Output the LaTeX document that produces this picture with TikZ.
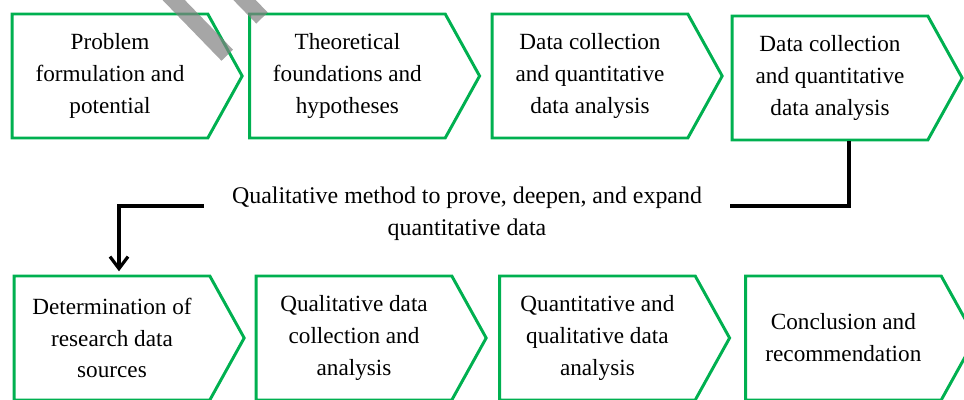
\documentclass[tikz,border=0pt]{standalone}
\usepackage{fontspec}
\setmainfont{Liberation Serif}
\usepackage{color}
\usetikzlibrary{shapes.symbols, arrows.meta}
\definecolor{stagegreen}{RGB}{0,176,80}

\begin{document}
\begin{tikzpicture}[
    stage/.style={signal, signal to=east, signal pointer angle=122, draw=stagegreen, line width=2.1pt,
        minimum width=5.75cm, minimum height=3.1cm, inner sep=0pt, align=center,
        font=\fontsize{16.5}{22.7}\selectfont},
    link/.style={line width=2.3pt, line join=miter}]
    \useasboundingbox (0,0) rectangle (24.1,10);
    % top row
    \node[stage] (t1) at (2.75, 8.1) {Problem\\formulation and\\potential};
    \node[stage] (t2) at (8.685, 8.1) {Theoretical\\foundations and\\hypotheses};
    \node[stage] (t3) at (14.75, 8.1) {Data collection\\and quantitative\\data analysis};
    \node[stage] (t4) at (20.75, 8.05) {Data collection\\and quantitative\\data analysis};
    % bottom row
    \node[stage] (b1) at (2.8, 1.55) {Determination of\\research data\\sources};
    \node[stage] (b2) at (8.85, 1.55) {Qualitative data\\collection and\\analysis};
    \node[stage] (b3) at (14.935, 1.55) {Quantitative and\\qualitative data\\analysis};
    \node[stage] (b4) at (21.085, 1.55) {Conclusion and\\recommendation};
    % middle note
    \node[align=center, inner xsep=0.7cm, font=\fontsize{17}{22.7}\selectfont] (note) at (11.675, 4.65)
        {Qualitative method to prove, deepen, and expand\\quantitative data};
    \draw[link] ([xshift=0.475cm]t4.south) |- ([yshift=0.2cm]note.east);
    \draw[link, -{Straight Barb[length=0.3cm, width=0.45cm]}] ([yshift=0.2cm]note.west) -| ([xshift=0.175cm, yshift=0.08cm]b1.north);
    % grey strokes at the top
    \draw[line width=0.4cm, color=gray, opacity=0.7] (4.05, 10.3) -- (5.68, 8.62);
    \draw[line width=0.4cm, color=gray, opacity=0.7] (5.82, 10.3) -- (6.55, 9.55);
\end{tikzpicture}
\end{document}
